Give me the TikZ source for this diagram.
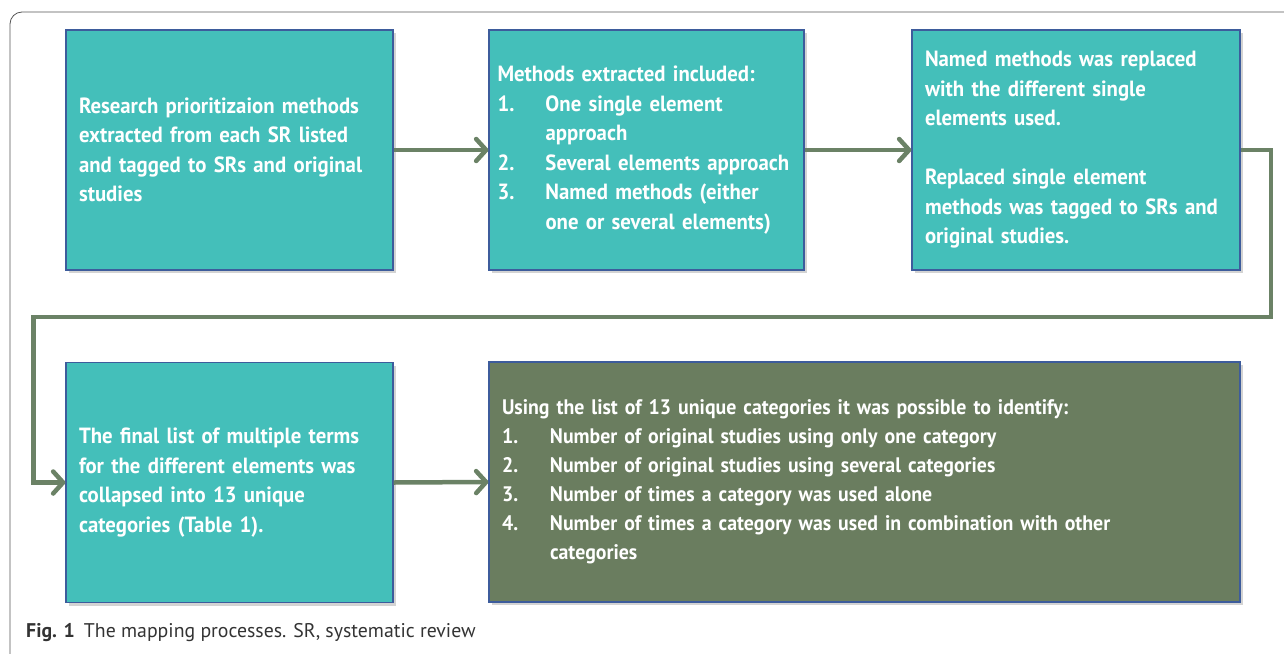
\documentclass[tikz,border=0pt]{standalone}
\usepackage{fontspec}
\setmainfont{PT Sans}
\newfontfamily\boxfont[FakeStretch=0.945]{PT Sans}
\usetikzlibrary{arrows.meta,shadows}
\definecolor{boxteal}{HTML}{44BFBA}
\definecolor{boxedge}{HTML}{3D5C9C}
\definecolor{boxolive}{HTML}{6A7D5F}
\definecolor{flowgreen}{HTML}{6B8266}
\definecolor{framegray}{HTML}{555555}
\newcommand\numitem[2]{\par\hangindent=48pt\hangafter=1\noindent\makebox[48pt][l]{#1}#2\par}
\begin{document}
\begin{tikzpicture}[x=1pt,y=-1pt,
  stepbox/.style={draw=boxedge,line width=1.2pt,fill=boxteal,text=white,
    font=\boxfont\bfseries\fontsize{22}{29.5}\selectfont,align=left,
    inner xsep=13pt,inner ysep=0pt,minimum height=240pt,
    drop shadow={shadow xshift=3pt,shadow yshift=-3pt,opacity=0.35}},
  flow/.style={draw=flowgreen,line width=4.5pt,-{Straight Barb[round,length=10pt,width=22pt]}}]
 \useasboundingbox (0,0) rectangle (1284,653);
 \draw[framegray,line width=0.8pt,rounded corners=12pt] (1300,12) -| (10,666);
 \node[stepbox,text width=301pt] (extract) at (229.5,150) {Research prioritizaion methods\\extracted from each SR listed\\and tagged to SRs and original\\studies};
 \node[stepbox,inner xsep=8.5pt,text width=298pt] (methods) at (646.5,150) {Methods extracted included:\numitem{1.}{One single element\newline approach}\numitem{2.}{Several elements approach}\numitem{3.}{Named methods (either\newline one or several elements)}};
 \node[stepbox,text width=302pt] (replace) at (1076,150) {Named methods was replaced\\with the different single\\elements used.\\[29.5pt]Replaced single element\\methods was tagged to SRs and\\original studies.};
 \node[stepbox,text width=301pt] (collapse) at (229.5,482.5) {The final list of multiple terms\\for the different elements was\\collapsed into 13 unique\\categories (Table 1).};
 \node[stepbox,fill=boxolive,text width=725pt,font=\boxfont\bfseries\fontsize{21}{29}\selectfont] (identify) at (864.5,482) {Using the list of 13 unique categories it was possible to identify:\numitem{1.}{Number of original studies using only one category}\numitem{2.}{Number of original studies using several categories}\numitem{3.}{Number of times a category was used alone}\numitem{4.}{Number of times a category was used in combination with other\newline categories}};
 \draw[flow] (extract.east) -- (methods.west);
 \draw[flow] (methods.east) -- (replace.west);
 \draw[flow] (replace.east) -| (1271,317) -| ([xshift=-32pt]collapse.west) -- (collapse.west);
 \draw[flow] (collapse.east) -- (identify.west);
 \node[anchor=base west,inner sep=0pt,text=black!80,font=\fontsize{19.8}{22}\selectfont] (caption) at (26,637) {\textbf{Fig. 1}\hspace{9pt}The mapping processes. SR, systematic review};
\end{tikzpicture}
\end{document}
